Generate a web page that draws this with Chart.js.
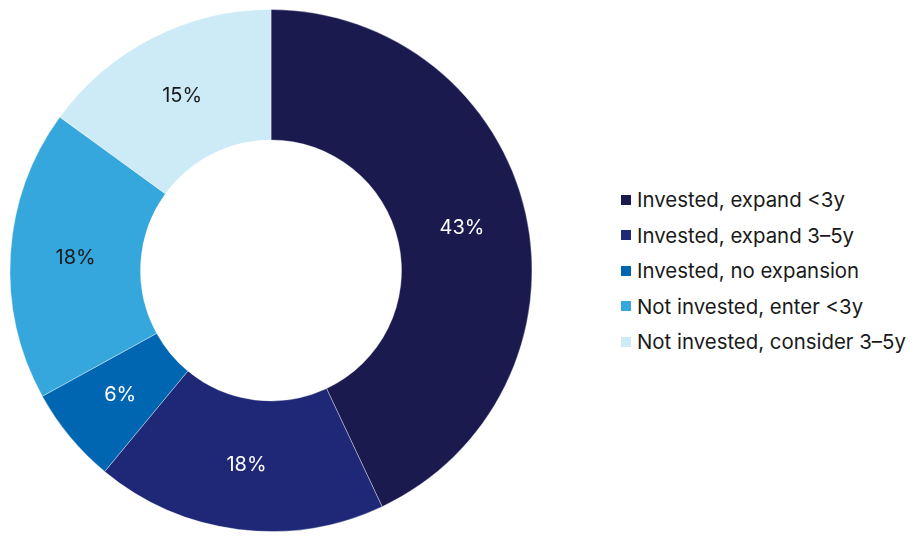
<!DOCTYPE html>
<html lang="en">
<head>
    <meta charset="UTF-8">
    <title>Investment plans</title>
    <script src="https://cdn.jsdelivr.net/npm/chart.js"></script>
    <style>
        body {
            margin: 0;
            background: #ffffff;
            font-family: "Inter", "Roboto", sans-serif;
        }
        .wrap {
            position: relative;
            width: 920px;
            height: 541px;
        }
        .chart-box {
            position: absolute;
            left: 0;
            top: 0;
            width: 542px;
            height: 541px;
        }
        .legend {
            position: absolute;
            left: 621px;
            top: 182px;
            margin: 0;
            padding: 0;
            list-style: none;
        }
        .legend li {
            display: flex;
            align-items: center;
            height: 35.5px;
            font-size: 20.4px;
            color: #1a1a1a;
            white-space: nowrap;
        }
        .legend span.box {
            display: inline-block;
            width: 10px;
            height: 10px;
            margin-right: 6px;
        }
    </style>
</head>
<body>
    <div class="wrap">
        <div class="chart-box">
            <canvas id="donut"></canvas>
        </div>
        <ul class="legend" id="legend"></ul>
    </div>

    <script>
        // data
        var categories = [
            'Invested, expand <3y',
            'Invested, expand 3\u20135y',
            'Invested, no expansion',
            'Not invested, enter <3y',
            'Not invested, consider 3\u20135y'
        ];
        var shares = [43, 18, 6, 18, 15];
        var sliceColors = ['#1b1a4f', '#1f2877', '#0066b2', '#36a7dc', '#cdebf6'];
        var labelColors = ['#ffffff', '#ffffff', '#ffffff', '#1a1a1a', '#1a1a1a'];

        // draws the % text in the middle of each slice
        var sliceLabels = {
            id: 'sliceLabels',
            afterDatasetsDraw: function(chart) {
                var ctx = chart.ctx;
                var meta = chart.getDatasetMeta(0);
                ctx.save();
                ctx.font = '20px Inter, Roboto, sans-serif';
                ctx.textAlign = 'center';
                ctx.textBaseline = 'middle';
                meta.data.forEach(function(arc, i) {
                    var pos = arc.tooltipPosition();
                    ctx.fillStyle = labelColors[i];
                    ctx.fillText(shares[i] + '%', pos.x, pos.y);
                });
                ctx.restore();
            }
        };

        var ctx = document.getElementById('donut').getContext('2d');
        var donut = new Chart(ctx, {
            type: 'doughnut',
            data: {
                labels: categories,
                datasets: [{
                    data: shares,
                    backgroundColor: sliceColors,
                    borderColor: 'rgba(255,255,255,0.6)',
                    borderWidth: 0.6,
                    hoverOffset: 0
                }]
            },
            options: {
                responsive: true,
                maintainAspectRatio: false,
                animation: false,
                radius: 261,
                cutout: '50%',
                plugins: {
                    legend: { display: false },
                    tooltip: { enabled: false }
                }
            },
            plugins: [sliceLabels]
        });

        // html legend built from the same arrays
        var legendEl = document.getElementById('legend');
        categories.forEach(function(name, i) {
            var li = document.createElement('li');
            var box = document.createElement('span');
            box.className = 'box';
            box.style.background = sliceColors[i];
            li.appendChild(box);
            li.appendChild(document.createTextNode(name));
            legendEl.appendChild(li);
        });
    </script>
</body>
</html>
